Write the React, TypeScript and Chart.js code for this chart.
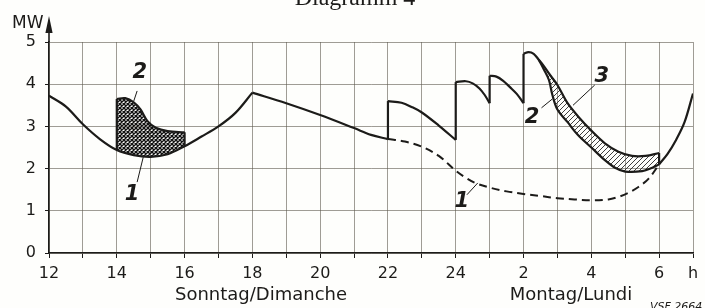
import React, { useEffect, useRef } from 'react';
import { Chart, registerables } from 'chart.js';

Chart.register(...registerables);

// ---- data (hours counted continuously from Sunday 12 h; 24 = midnight, 26 = 2 h Monday ...) ----
const sundayHours = [12, 12.5, 13, 13.5, 14, 14.5, 15, 15.5, 16, 16.5, 17, 17.5, 18];
const sundayMW = [3.73, 3.47, 3.05, 2.7, 2.44, 2.32, 2.28, 2.34, 2.53, 2.76, 3.0, 3.32, 3.8];

const eveningHours = [18, 19, 20, 21, 21.5, 22];
const eveningMW = [3.8, 3.55, 3.27, 2.96, 2.8, 2.7];

const step1Hours = [22, 22.4, 22.7, 23, 23.5, 24];
const step1MW = [3.6, 3.56, 3.46, 3.33, 3.02, 2.68];

const step2Hours = [24, 24.3, 24.5, 24.7, 24.85, 25];
const step2MW = [4.05, 4.07, 4.02, 3.9, 3.75, 3.55];

const step3Hours = [25, 25.2, 25.4, 25.6, 25.8, 26];
const step3MW = [4.2, 4.18, 4.08, 3.93, 3.77, 3.55];

const curve2Hours = [26, 26.15, 26.3, 26.45, 26.6, 26.8, 27, 27.3, 27.65, 28, 28.4, 28.8, 29.2, 29.6, 30];
const curve2MW = [4.72, 4.76, 4.72, 4.58, 4.43, 4.2, 3.98, 3.55, 3.2, 2.9, 2.6, 2.4, 2.3, 2.3, 2.37];

const lowerHours = [26.45, 26.6, 26.75, 26.85, 27, 27.3, 27.6, 28, 28.4, 28.7, 29, 29.5, 29.8, 30];
const lowerMW = [4.58, 4.35, 4.1, 3.75, 3.4, 3.1, 2.8, 2.5, 2.2, 2.02, 1.93, 1.94, 2.02, 2.1];

const mondayHours = [30, 30.25, 30.5, 30.75, 31];
const mondayMW = [2.1, 2.35, 2.68, 3.1, 3.78];

const nightHours = [22, 22.5, 23, 23.5, 24, 24.3, 24.6, 25, 25.5, 26, 26.5, 27, 27.5, 28, 28.5, 28.8, 29.1, 29.4, 29.7, 30];
const nightMW = [2.7, 2.64, 2.52, 2.3, 1.95, 1.78, 1.65, 1.55, 1.46, 1.4, 1.35, 1.3, 1.27, 1.25, 1.27, 1.33, 1.43, 1.57, 1.77, 2.1];

const peakHours = [14, 14.25, 14.5, 14.7, 14.9, 15.15, 15.5, 16];
const peakMW = [3.65, 3.67, 3.57, 3.4, 3.13, 2.97, 2.89, 2.86];

const hatchStart = 26.45;

const xTickLabels: Record<number, string> = {
  12: '12', 14: '14', 16: '16', 18: '18', 20: '20', 22: '22', 24: '24', 26: '2', 28: '4', 30: '6', 31: 'h',
};
const yTickLabels = ['0', '1', '2', '3', '4', '5'];

const INK = '#1c1b19';
const GRID = 'rgba(95,90,80,0.6)';

type P = { x: number; y: number };
const pts = (h: number[], m: number[]): P[] => h.map((x, i) => ({ x, y: m[i] }));
const at = (h: number[], m: number[], x: number) => m[h.indexOf(x)];

function makeCross(): CanvasPattern | string {
  const s = 4;
  const c = document.createElement('canvas');
  c.width = s; c.height = s;
  const g = c.getContext('2d')!;
  g.strokeStyle = '#111';
  g.lineWidth = 1.4;
  g.beginPath();
  for (let k = -1; k <= 1; k++) {
    g.moveTo(k * s, 0); g.lineTo(k * s + s, s);
    g.moveTo(k * s + s, 0); g.lineTo(k * s, s);
  }
  g.stroke();
  return g.createPattern(c, 'repeat') || '#444';
}

function makeDiag(): CanvasPattern | string {
  const s = 5;
  const c = document.createElement('canvas');
  c.width = s; c.height = s;
  const g = c.getContext('2d')!;
  g.strokeStyle = '#2a2a2a';
  g.lineWidth = 0.9;
  g.beginPath();
  for (let k = -1; k <= 1; k++) {
    g.moveTo(k * s, s); g.lineTo(k * s + s, 0);
  }
  g.stroke();
  return g.createPattern(c, 'repeat') || '#888';
}

const notes = [
  { t: '2', h: 14.68, v: 4.27, a: [14.6, 3.84], b: [14.5, 3.6] },
  { t: '1', h: 14.45, v: 1.38, a: [14.6, 1.68], b: [14.78, 2.27] },
  { t: '1', h: 24.18, v: 1.21, a: [24.33, 1.38], b: [24.65, 1.66] },
  { t: '2', h: 26.25, v: 3.22, a: [26.53, 3.44], b: [26.85, 3.65] },
  { t: '3', h: 28.31, v: 4.19, a: [28.1, 3.98], b: [27.46, 3.5] },
];

export default function App() {
  const ref = useRef<HTMLCanvasElement>(null);

  useEffect(() => {
    document.body.style.margin = '0';
    const canvas = ref.current!;
    const cross = makeCross();
    const diag = makeDiag();

    const solid = (data: P[], extra: any = {}) => ({
      data,
      borderColor: INK,
      borderWidth: 2.2,
      pointRadius: 0,
      fill: false,
      tension: 0.35,
      order: 0,
      ...extra,
    });
    const jump = (x: number, y1: number, y2: number) =>
      solid([{ x, y: y1 }, { x, y: y2 }], { tension: 0 });

    const sunday = pts(sundayHours, sundayMW);
    const region2 = [
      ...pts(peakHours, peakMW),
      { x: 16, y: at(sundayHours, sundayMW, 16) },
      ...sunday.filter((p) => p.x >= 14 && p.x <= 16).reverse(),
    ];
    const region3 = [
      ...pts(curve2Hours, curve2MW).filter((p) => p.x >= hatchStart),
      ...pts(lowerHours, lowerMW).reverse(),
    ];

    const datasets: any[] = [
      {
        data: region2, fill: 'shape', backgroundColor: cross, borderColor: 'transparent',
        borderWidth: 0, pointRadius: 0, tension: 0, order: 10,
      },
      {
        data: region3, fill: 'shape', backgroundColor: diag, borderColor: 'transparent',
        borderWidth: 0, pointRadius: 0, tension: 0, order: 10,
      },
      solid(sunday),
      solid(pts(eveningHours, eveningMW)),
      jump(22, eveningMW[eveningMW.length - 1], step1MW[0]),
      solid(pts(step1Hours, step1MW)),
      jump(24, step1MW[step1MW.length - 1], step2MW[0]),
      solid(pts(step2Hours, step2MW)),
      jump(25, step2MW[step2MW.length - 1], step3MW[0]),
      solid(pts(step3Hours, step3MW)),
      jump(26, step3MW[step3MW.length - 1], curve2MW[0]),
      solid(pts(curve2Hours, curve2MW)),
      jump(30, curve2MW[curve2MW.length - 1], lowerMW[lowerMW.length - 1]),
      solid(pts(lowerHours, lowerMW)),
      solid(pts(mondayHours, mondayMW)),
      solid(pts(nightHours, nightMW), { borderDash: [8, 5], borderWidth: 2 }),
      solid(pts(peakHours, peakMW)),
      jump(14, at(sundayHours, sundayMW, 14), peakMW[0]),
      jump(16, peakMW[peakMW.length - 1], at(sundayHours, sundayMW, 16)),
    ];

    const overlay = {
      id: 'overlay',
      beforeDraw(c: any) {
        const g = c.ctx;
        g.save();
        g.fillStyle = '#fefefc';
        g.fillRect(0, 0, c.width, c.height);
        g.restore();
      },
      afterDraw(c: any) {
        const g: CanvasRenderingContext2D = c.ctx;
        const { x, y } = c.scales;
        const ca = c.chartArea;
        const X = (h: number) => x.getPixelForValue(h);
        const Y = (v: number) => y.getPixelForValue(v);
        g.save();
        // y axis arrow
        g.strokeStyle = INK;
        g.fillStyle = INK;
        g.lineWidth = 1.6;
        g.beginPath();
        g.moveTo(ca.left, ca.top);
        g.lineTo(ca.left, 28);
        g.stroke();
        g.beginPath();
        g.moveTo(ca.left, 16);
        g.lineTo(ca.left - 3.6, 33);
        g.lineTo(ca.left + 3.6, 33);
        g.closePath();
        g.fill();

        g.textAlign = 'left';
        g.textBaseline = 'alphabetic';
        g.font = '17px "DejaVu Sans"';
        g.fillText('MW', 12, 28);

        // curve annotations
        g.lineWidth = 1;
        for (const n of notes) {
          g.beginPath();
          g.moveTo(X(n.a[0]), Y(n.a[1]));
          g.lineTo(X(n.b[0]), Y(n.b[1]));
          g.stroke();
          g.font = 'italic bold 21px "DejaVu Sans"';
          g.textAlign = 'center';
          g.textBaseline = 'middle';
          g.fillText(n.t, X(n.h), Y(n.v));
        }

        // day captions
        g.font = '18px "DejaVu Sans"';
        g.textAlign = 'center';
        g.textBaseline = 'alphabetic';
        g.fillText('Sonntag/Dimanche', 261, 300);
        g.fillText('Montag/Lundi', 571, 300);

        g.font = 'italic 11px "DejaVu Sans"';
        g.textAlign = 'left';
        g.fillText('VSF 2664', 650, 310);

        g.font = '24px "Liberation Serif"';
        g.textAlign = 'center';
        g.fillText('Diagramm 4', 355, 5);
        g.restore();
      },
    };

    const chart = new Chart(canvas, {
      type: 'line',
      data: { datasets },
      options: {
        animation: false,
        responsive: false,
        devicePixelRatio: 1,
        events: [],
        layout: { padding: { top: 42, right: 12, left: 0, bottom: 0 } },
        plugins: { legend: { display: false }, tooltip: { enabled: false } },
        elements: { point: { radius: 0 } },
        scales: {
          x: {
            type: 'linear',
            min: 12,
            max: 31,
            afterFit: (s: any) => { s.height = 55; },
            ticks: {
              stepSize: 1,
              autoSkip: false,
              maxRotation: 0,
              padding: 6,
              color: INK,
              font: { family: 'DejaVu Sans', size: 16 },
              callback: (v: any) => xTickLabels[Number(v)] ?? '',
            },
            grid: { color: GRID, lineWidth: 1, tickLength: 5, tickColor: INK },
            border: { display: true, color: INK, width: 1.6 },
          },
          y: {
            type: 'linear',
            min: 0,
            max: 5,
            afterFit: (s: any) => { s.width = 49; },
            ticks: {
              stepSize: 1,
              padding: 9,
              color: INK,
              font: { family: 'DejaVu Sans', size: 16 },
              callback: (v: any) => yTickLabels[Number(v)] ?? '',
            },
            grid: { color: GRID, lineWidth: 1, tickLength: 4, tickColor: INK },
            border: { display: true, color: INK, width: 1.6 },
          },
        },
      } as any,
      plugins: [overlay],
    });
    return () => chart.destroy();
  }, []);

  return (
    <div style={{ position: 'absolute', left: 0, top: 0, width: 705, height: 308, overflow: 'hidden' }}>
      <canvas ref={ref} width={705} height={308} style={{ display: 'block' }} />
    </div>
  );
}
